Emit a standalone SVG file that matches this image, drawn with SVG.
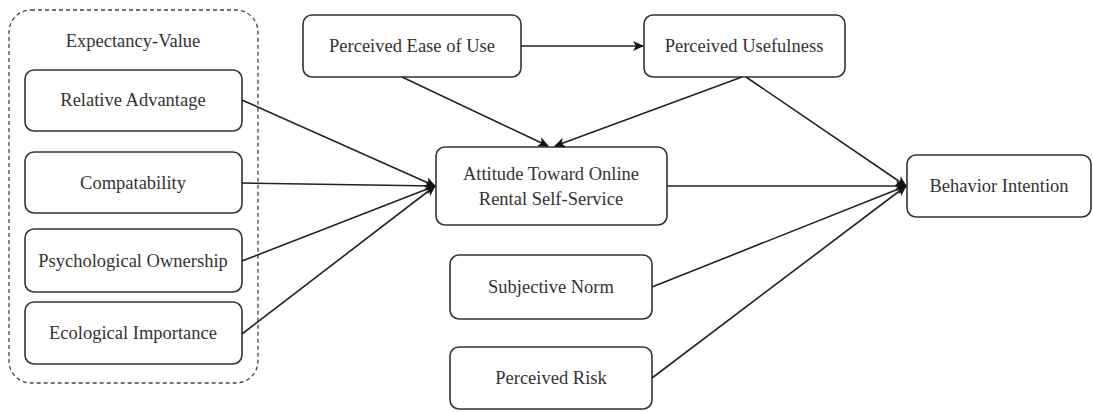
<svg xmlns="http://www.w3.org/2000/svg" width="1093" height="412" viewBox="0 0 1093 412">
<style>
.n{fill:#fff;stroke:#333;stroke-width:1.6}
.t{font-family:"Liberation Serif","Times New Roman",serif;font-size:18.5px;fill:#333;text-anchor:middle;dominant-baseline:central}
.c{stroke:#222;stroke-width:1.6;fill:none;marker-end:url(#ah)}
</style>
<defs>
<marker id="ah" viewBox="0 0 10 10" refX="9" refY="5" markerWidth="11" markerHeight="11" orient="auto" markerUnits="userSpaceOnUse">
<path d="M0,0.5 L10,5 L0,9.5 L2.5,5 Z" fill="#111"/>
</marker>
</defs>
<rect width="1093" height="412" fill="#fff"/>
<g id="group-expectancy">
<rect x="9" y="10" width="249" height="373" rx="22" fill="none" stroke="#444" stroke-width="1.3" stroke-dasharray="4,3"/>
<text class="t" x="133" y="41">Expectancy-Value</text>
</g>
<g id="relative-advantage"><rect class="n" x="25" y="70" width="217" height="61" rx="9"/><text class="t" x="133" y="100">Relative Advantage</text></g>
<g id="compatability"><rect class="n" x="25" y="152" width="217" height="61" rx="9"/><text class="t" x="133" y="183">Compatability</text></g>
<g id="psychological-ownership"><rect class="n" x="25" y="229" width="217" height="63" rx="9"/><text class="t" x="133" y="261">Psychological Ownership</text></g>
<g id="ecological-importance"><rect class="n" x="25" y="302" width="217" height="62" rx="9"/><text class="t" x="133" y="333">Ecological Importance</text></g>
<g id="ease-of-use"><rect class="n" x="303" y="15" width="218" height="62" rx="9"/><text class="t" x="412" y="46">Perceived Ease of Use</text></g>
<g id="usefulness"><rect class="n" x="644" y="15" width="201" height="62" rx="9"/><text class="t" x="744" y="46">Perceived Usefulness</text></g>
<g id="attitude"><rect class="n" x="436" y="147" width="231" height="78" rx="9"/><text class="t" x="551" y="174">Attitude Toward Online</text><text class="t" x="551" y="199">Rental Self-Service</text></g>
<g id="behavior-intention"><rect class="n" x="907" y="155" width="184" height="62" rx="9"/><text class="t" x="999" y="186">Behavior Intention</text></g>
<g id="subjective-norm"><rect class="n" x="450" y="255" width="202" height="64" rx="9"/><text class="t" x="551" y="287">Subjective Norm</text></g>
<g id="perceived-risk"><rect class="n" x="450" y="347" width="202" height="62" rx="9"/><text class="t" x="551" y="378">Perceived Risk</text></g>
<g id="connectors">
<line class="c" x1="521" y1="46" x2="643" y2="46"/>
<line class="c" x1="402" y1="77" x2="548" y2="146"/>
<line class="c" x1="742" y1="77" x2="555" y2="146"/>
<line class="c" x1="746" y1="77" x2="906" y2="186"/>
<line class="c" x1="667" y1="186" x2="906" y2="186"/>
<line class="c" x1="652" y1="287" x2="906" y2="186"/>
<line class="c" x1="652" y1="378" x2="906" y2="186"/>
<line class="c" x1="242" y1="100" x2="435" y2="186"/>
<line class="c" x1="242" y1="183" x2="435" y2="186"/>
<line class="c" x1="242" y1="261" x2="435" y2="186"/>
<line class="c" x1="242" y1="334" x2="435" y2="186"/>
</g>
</svg>
